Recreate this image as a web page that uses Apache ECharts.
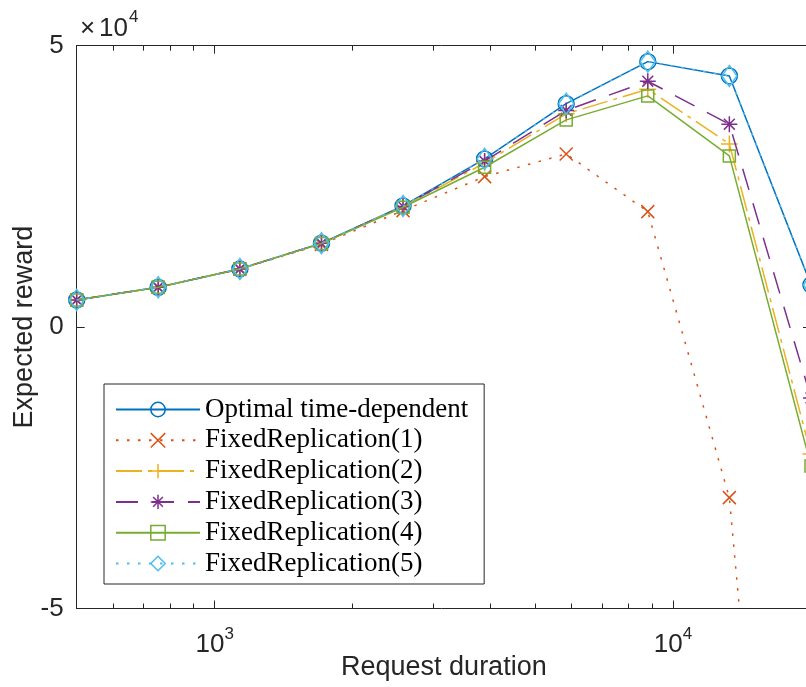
<!DOCTYPE html>
<html><head><meta charset="utf-8">
<script src="https://cdn.jsdelivr.net/npm/echarts@6/dist/echarts.min.js"></script>
<style>html,body{margin:0;padding:0;background:#fff}#c{width:806px;height:687px}</style>
</head><body><div id="c"></div>
<script>
// ---- data ----
const durations = [500, 753, 1135, 1710, 2576, 3881, 5847, 8809, 13271, 20000];
const seriesNames = ['Optimal time-dependent', 'FixedReplication(1)', 'FixedReplication(2)',
                     'FixedReplication(3)', 'FixedReplication(4)', 'FixedReplication(5)'];
const optimal = [4830, 7090, 10340, 14910, 21530, 29890, 39700, 47170, 44630, 7500];
const fixed1  = [4830, 7050, 10300, 14700, 20700, 26740, 30770, 20520, -30300, -190000];
const fixed2  = [4830, 7090, 10340, 14900, 21400, 29150, 37900, 42270, 32550, -22530];
const fixed3  = [4830, 7090, 10340, 14900, 21450, 29500, 38500, 43690, 36050, -12580];
const fixed4  = [4830, 7090, 10340, 14850, 21300, 28400, 36820, 41080, 30420, -24660];
const fixed5  = [4830, 7090, 10340, 14910, 21530, 29890, 39700, 47170, 44630, 7500];
const yTicks = [-50000, 0, 50000];
const xMin = 500, xMax = 20000;
const yExponentTimes = '×';
const yExponentBase = '10';
const yExponent = '4';

// ---- styles ----
const axisColor = '#262626';
const sans = '"Liberation Sans", Arial, Helvetica, sans-serif';
const serif = '"Liberation Serif", "Times New Roman", serif';
const colors = ['#0072BD', '#D95319', '#EDB120', '#7E2F8E', '#77AC30', '#4DBEEE'];
const dashes = ['solid', [2.5, 8.5], [26, 6, 4, 6], [22, 14], 'solid', [2.5, 8.5]];
const symbols = ['circle', 'path://M0,0L10,10M10,0L0,10', 'path://M5,0L5,10M0,5L10,5',
  'path://M5,0L5,10M0,5L10,5M1.6,1.6L8.4,8.4M8.4,1.6L1.6,8.4', 'rect', 'diamond'];
const symbolSizes = [16, 13, 17, 16, 12, [15, 21]];
const values = [optimal, fixed1, fixed2, fixed3, fixed4, fixed5];

const series = seriesNames.map((name, i) => ({
  name, type: 'line', xAxisIndex: 0, yAxisIndex: 0,
  data: durations.map((d, k) => [d, values[i][k]]),
  symbol: symbols[i], symbolSize: symbolSizes[i], showSymbol: true, clip: true,
  lineStyle: { color: colors[i], width: 1.5, type: dashes[i] },
  itemStyle: { color: 'transparent', borderColor: colors[i], borderWidth: 1.5 },
  emphasis: { disabled: true }, z: 2 + i
}));

function xAxisCfg(pos, withLabels) {
  return {
    type: 'log', logBase: 10, min: xMin, max: xMax, position: pos, gridIndex: 0,
    axisLine: { show: true, onZero: false, lineStyle: { color: axisColor, width: 1 } },
    axisTick: { show: true, inside: true, length: 8, lineStyle: { color: axisColor, width: 1 } },
    minorTick: { show: true, splitNumber: 9, length: 5, lineStyle: { color: axisColor, width: 1 } },
    splitLine: { show: false }, minorSplitLine: { show: false },
    axisLabel: withLabels ? {
      show: true, margin: 17, showMinLabel: false, showMaxLabel: false,
      formatter: v => {
        const e = Math.log10(v);
        if (Math.abs(e - Math.round(e)) > 1e-6) return '';
        return '{b|10}{s|' + Math.round(e) + '}';
      },
      rich: {
        b: { fontSize: 26, fontFamily: sans, color: axisColor, lineHeight: 38 },
        s: { fontSize: 17, fontFamily: sans, color: axisColor, lineHeight: 12, verticalAlign: 'top' }
      }
    } : { show: false },
    name: withLabels ? 'Request duration' : '', nameLocation: 'middle', nameGap: 46, nameMoveOverlap: false,
    nameTextStyle: { fontSize: 27, fontFamily: sans, color: axisColor }
  };
}
function yAxisCfg(pos, withLabels) {
  return {
    type: 'value', min: yTicks[0], max: yTicks[yTicks.length - 1], interval: yTicks[1] - yTicks[0],
    position: pos, gridIndex: 0,
    axisLine: { show: true, onZero: false, lineStyle: { color: axisColor, width: 1 } },
    axisTick: { show: true, inside: true, length: 8, lineStyle: { color: axisColor, width: 1 } },
    splitLine: { show: false },
    axisLabel: withLabels ? { show: true, margin: 13, fontSize: 26, fontFamily: sans, color: axisColor,
      formatter: v => String(v / 10000) } : { show: false },
    name: withLabels ? 'Expected reward' : '', nameLocation: 'middle', nameGap: 39, nameMoveOverlap: false,
    nameTextStyle: { fontSize: 27, fontFamily: sans, color: axisColor }
  };
}

const chart = echarts.init(document.getElementById('c'), null, { renderer: 'canvas' });
chart.setOption({
  animation: false,
  backgroundColor: '#ffffff',
  grid: { left: 76.7, top: 45.7, width: 734.3, height: 562.8, containLabel: false, outerBoundsMode: 'none' },
  xAxis: [xAxisCfg('bottom', true), xAxisCfg('top', false)],
  yAxis: [yAxisCfg('left', true), yAxisCfg('right', false)],
  legend: {
    orient: 'vertical', left: 104, top: 384, padding: [12, 16, 7, 11],
    itemWidth: 84, itemHeight: 18, itemGap: 3.8,
    backgroundColor: '#ffffff', borderColor: axisColor, borderWidth: 1,
    textStyle: { fontFamily: serif, fontSize: 27, lineHeight: 27, color: '#000' },
    itemStyle: { borderWidth: 1.5 },
    data: seriesNames
  },
  graphic: [
    { type: 'text', x: 80, y: 29, style: { text: yExponentTimes, font: '26px ' + sans, fill: axisColor, textVerticalAlign: 'middle' } },
    { type: 'text', x: 99, y: 29, style: { text: yExponentBase, font: '26px ' + sans, fill: axisColor, textVerticalAlign: 'middle' } },
    { type: 'text', x: 129, y: 17, style: { text: yExponent, font: '17px ' + sans, fill: axisColor, textVerticalAlign: 'middle' } }
  ],
  series
});
</script></body></html>
